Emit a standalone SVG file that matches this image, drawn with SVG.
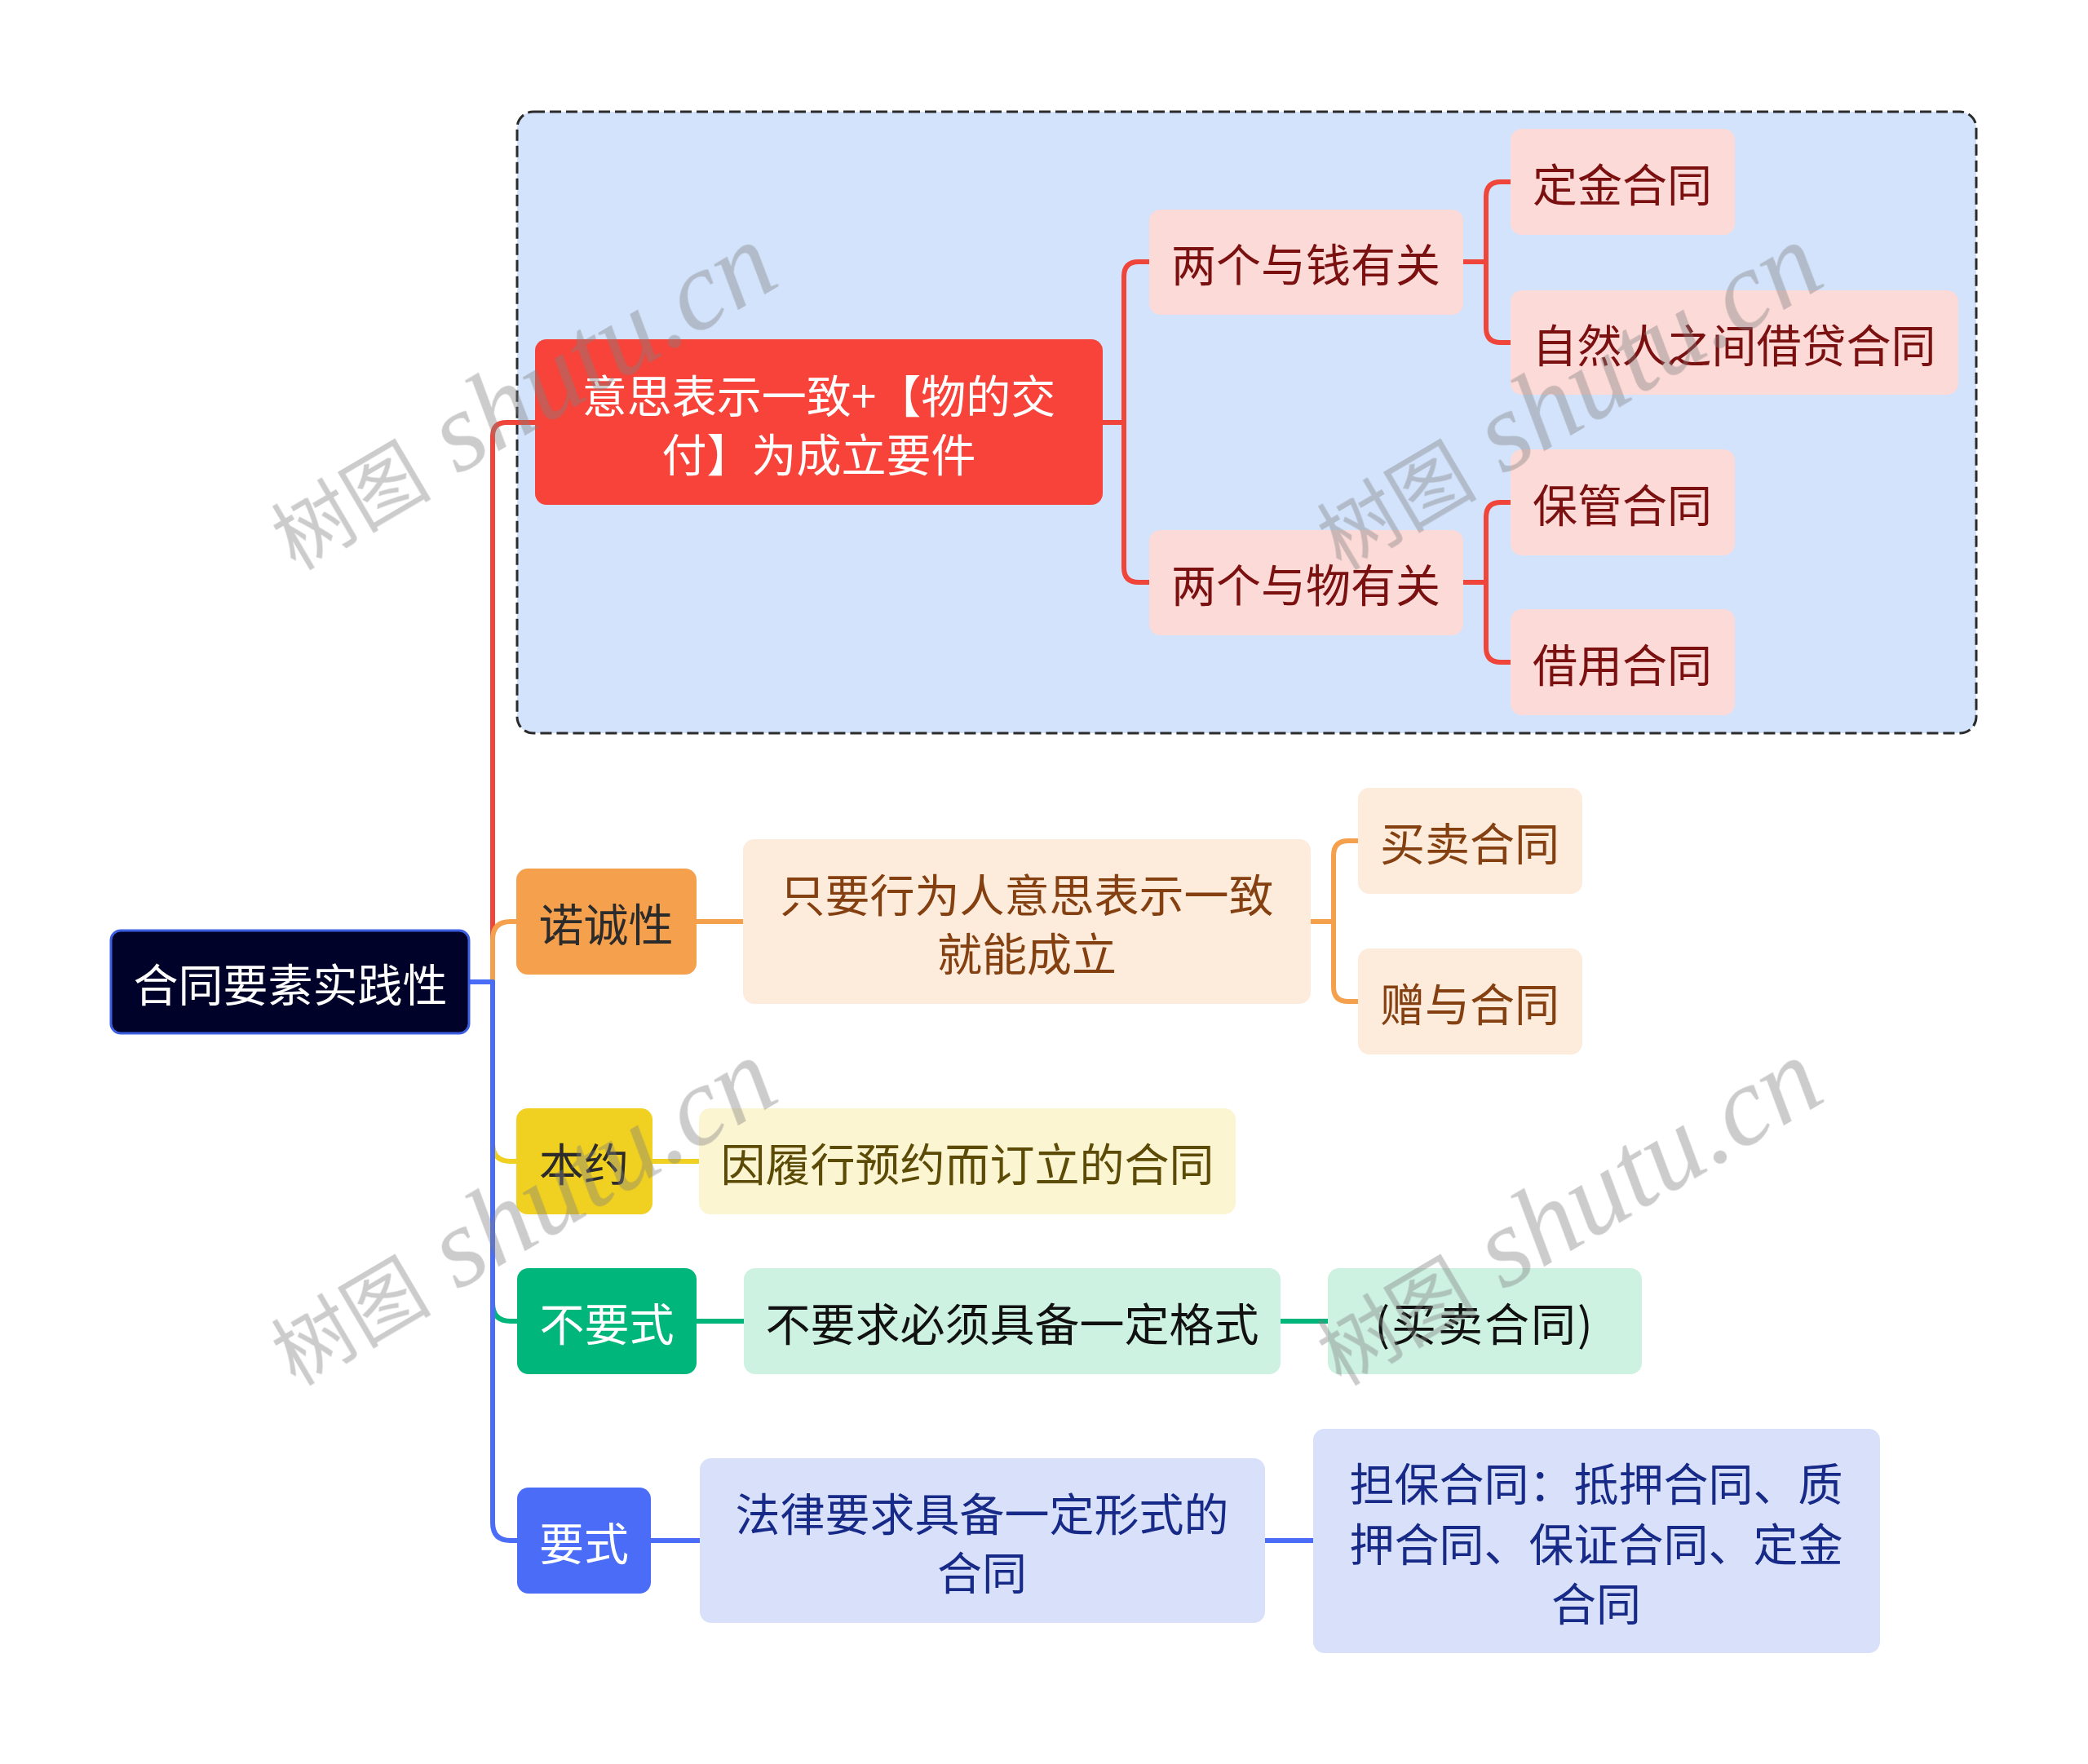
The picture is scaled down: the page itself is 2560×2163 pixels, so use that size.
<svg xmlns="http://www.w3.org/2000/svg" width="2560" height="2163" viewBox="0 0 2560 2163">
<style>
.t{font-family:"Noto Sans CJK SC","Noto Sans",sans-serif;font-size:55px;text-anchor:middle;dominant-baseline:central}
.c{fill:none;stroke-width:6;stroke-linecap:round;stroke-linejoin:round}
.wm{fill:#808080;opacity:0.4}
</style>
<rect width="2560" height="2163" fill="#ffffff"/>
<g id="boundary">
<rect x="634" y="137" width="1789" height="762" rx="20" fill="#d3e3fb" stroke="#2b2b2b" stroke-width="3" stroke-dasharray="14 6"/>
</g>
<g id="connectors">
<path class="c" stroke="#f0453a" d="M575,1204 H604 V535 Q604,518 621,518 H656"/>
<path class="c" stroke="#f5a04d" d="M575,1204 H604 V1152 Q604,1130 626,1130 H633"/>
<path class="c" stroke="#f0d020" d="M575,1204 H604 V1402 Q604,1424 626,1424 H633"/>
<path class="c" stroke="#00b67a" d="M575,1204 H604 V1598 Q604,1620 626,1620 H634"/>
<path class="c" stroke="#4a6cf7" d="M575,1204 H604 V1867 Q604,1889 626,1889 H634"/>
<path class="c" stroke="#f0453a" d="M1352,518 H1378 M1378,518 V339 Q1378,321 1396,321 H1409 M1378,518 V696 Q1378,714 1396,714 H1409"/>
<path class="c" stroke="#f0453a" d="M1794,321 H1822 M1822,321 V241 Q1822,223 1840,223 H1852 M1822,321 V402 Q1822,420 1840,420 H1852"/>
<path class="c" stroke="#f0453a" d="M1794,714 H1822 M1822,714 V634 Q1822,616 1840,616 H1852 M1822,714 V794 Q1822,812 1840,812 H1852"/>
<path class="c" stroke="#f5a04d" d="M854,1130 H911"/>
<path class="c" stroke="#f5a04d" d="M1607,1130 H1635 M1635,1130 V1049 Q1635,1031 1653,1031 H1665 M1635,1130 V1210 Q1635,1228 1653,1228 H1665"/>
<path class="c" stroke="#f0d020" d="M800,1424 H857"/>
<path class="c" stroke="#00b67a" d="M854,1620 H912 M1570,1620 H1628"/>
<path class="c" stroke="#4a6cf7" d="M798,1889 H858 M1551,1889 H1610"/>
</g>
<g id="root">
<rect x="136" y="1141" width="439" height="126" rx="12" fill="#000229" stroke="#3b5fe0" stroke-width="3"/>
<text class="t" x="356" y="1204" fill="#ffffff">合同要素实践性</text>
</g>
<g id="n-red">
<rect x="656" y="416" width="696" height="203" rx="14" fill="#f7433a"/>
<text class="t" x="1004" y="482" fill="#ffffff">意思表示一致+【物的交</text>
<text class="t" x="1004" y="554" fill="#ffffff">付】为成立要件</text>
</g>
<g id="n-money">
<rect x="1409" y="257" width="385" height="129" rx="14" fill="#fcdad7"/>
<text class="t" x="1601" y="321" fill="#7a1010">两个与钱有关</text>
</g>
<g id="n-thing">
<rect x="1409" y="650" width="385" height="129" rx="14" fill="#fcdad7"/>
<text class="t" x="1601" y="714" fill="#7a1010">两个与物有关</text>
</g>
<g id="n-dingjin">
<rect x="1852" y="158" width="275" height="130" rx="14" fill="#fcdad7"/>
<text class="t" x="1989" y="223" fill="#7a1010">定金合同</text>
</g>
<g id="n-jiedai">
<rect x="1852" y="356" width="549" height="128" rx="14" fill="#fcdad7"/>
<text class="t" x="2126" y="420" fill="#7a1010">自然人之间借贷合同</text>
</g>
<g id="n-baoguan">
<rect x="1852" y="551" width="275" height="130" rx="14" fill="#fcdad7"/>
<text class="t" x="1989" y="616" fill="#7a1010">保管合同</text>
</g>
<g id="n-jieyong">
<rect x="1852" y="747" width="275" height="130" rx="14" fill="#fcdad7"/>
<text class="t" x="1989" y="812" fill="#7a1010">借用合同</text>
</g>
<g id="n-nuocheng">
<rect x="633" y="1065" width="221" height="130" rx="14" fill="#f5a04d"/>
<text class="t" x="743" y="1130" fill="#2b2b2b">诺诚性</text>
</g>
<g id="n-zhiyao">
<rect x="911" y="1029" width="696" height="202" rx="14" fill="#fdebdc"/>
<text class="t" x="1259" y="1094" fill="#844010">只要行为人意思表示一致</text>
<text class="t" x="1259" y="1166" fill="#844010">就能成立</text>
</g>
<g id="n-maimai">
<rect x="1665" y="966" width="275" height="130" rx="14" fill="#fdebdc"/>
<text class="t" x="1802" y="1031" fill="#844010">买卖合同</text>
</g>
<g id="n-zengyu">
<rect x="1665" y="1163" width="275" height="130" rx="14" fill="#fdebdc"/>
<text class="t" x="1802" y="1228" fill="#844010">赠与合同</text>
</g>
<g id="n-benyue">
<rect x="633" y="1359" width="167" height="130" rx="14" fill="#f0d020"/>
<text class="t" x="716" y="1424" fill="#2b2b2b">本约</text>
</g>
<g id="n-yinlvxing">
<rect x="857" y="1359" width="658" height="130" rx="14" fill="#fcf5d2"/>
<text class="t" x="1186" y="1424" fill="#5c4b06">因履行预约而订立的合同</text>
</g>
<g id="n-buyaoshi">
<rect x="634" y="1555" width="220" height="130" rx="14" fill="#00b67a"/>
<text class="t" x="744" y="1620" fill="#ffffff">不要式</text>
</g>
<g id="n-buyaoqiu">
<rect x="912" y="1555" width="658" height="130" rx="14" fill="#cdf2e2"/>
<text class="t" x="1241" y="1620" fill="#111111">不要求必须具备一定格式</text>
</g>
<g id="n-maimai2">
<rect x="1628" y="1555" width="385" height="130" rx="14" fill="#cdf2e2"/>
<text class="t" x="1820" y="1620" fill="#111111" letter-spacing="2">(买卖合同)</text>
</g>
<g id="n-yaoshi">
<rect x="634" y="1824" width="164" height="130" rx="14" fill="#4a6cf7"/>
<text class="t" x="716" y="1889" fill="#ffffff">要式</text>
</g>
<g id="n-falv">
<rect x="858" y="1788" width="693" height="202" rx="14" fill="#d9e1fa"/>
<text class="t" x="1204" y="1853" fill="#172a88">法律要求具备一定形式的</text>
<text class="t" x="1204" y="1925" fill="#172a88">合同</text>
</g>
<g id="n-danbao">
<rect x="1610" y="1752" width="695" height="275" rx="14" fill="#d9e1fa"/>
<text class="t" x="1957" y="1816" fill="#172a88">担保合同：抵押合同、质</text>
<text class="t" x="1957" y="1890" fill="#172a88">押合同、保证合同、定金</text>
<text class="t" x="1957" y="1963" fill="#172a88">合同</text>
</g>
<g id="watermarks" class="wm">
<text transform="translate(362,700) rotate(-30.5)"><tspan font-family="Noto Sans CJK SC,sans-serif" font-size="98">树图</tspan><tspan font-family="Liberation Serif,serif" font-style="italic" font-size="138"> shutu.cn</tspan></text>
<text transform="translate(1644,700) rotate(-30.5)"><tspan font-family="Noto Sans CJK SC,sans-serif" font-size="98">树图</tspan><tspan font-family="Liberation Serif,serif" font-style="italic" font-size="138"> shutu.cn</tspan></text>
<text transform="translate(362,1700) rotate(-30.5)"><tspan font-family="Noto Sans CJK SC,sans-serif" font-size="98">树图</tspan><tspan font-family="Liberation Serif,serif" font-style="italic" font-size="138"> shutu.cn</tspan></text>
<text transform="translate(1644,1700) rotate(-30.5)"><tspan font-family="Noto Sans CJK SC,sans-serif" font-size="98">树图</tspan><tspan font-family="Liberation Serif,serif" font-style="italic" font-size="138"> shutu.cn</tspan></text>
</g>
</svg>
